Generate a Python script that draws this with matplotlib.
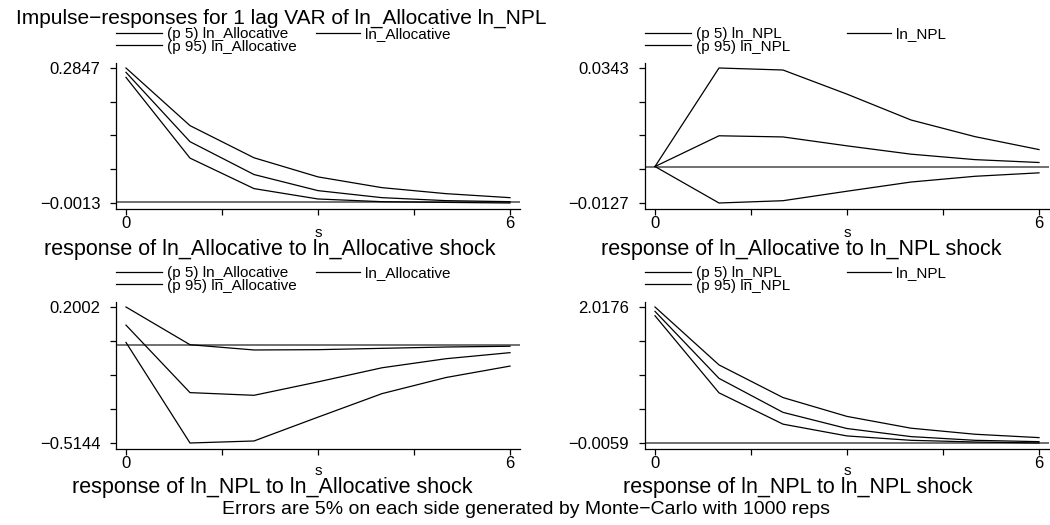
import numpy as np
import matplotlib
matplotlib.use("Agg")
import matplotlib.pyplot as plt

plt.rcParams['font.family'] = ['Liberation Sans', 'DejaVu Sans']

W, H = 1050, 525

# ---------------- data ----------------
steps = [0, 1, 2, 3, 4, 5, 6]

# ln_Allocative response to ln_Allocative shock
aa_p5 = [0.2648, 0.0938, 0.0292, 0.0072, 0.0015, 0.0000, -0.0013]
aa_irf = [0.2755, 0.1286, 0.0590, 0.0249, 0.0100, 0.0037, 0.0015]
aa_p95 = [0.2847, 0.1626, 0.0945, 0.0540, 0.0312, 0.0185, 0.0100]

# ln_Allocative response to ln_NPL shock
an_p5 = [0.0, -0.0127, -0.0119, -0.0086, -0.0054, -0.0034, -0.0022]
an_irf = [0.0, 0.0107, 0.0103, 0.0072, 0.0043, 0.0024, 0.0014]
an_p95 = [0.0, 0.0343, 0.0336, 0.0252, 0.0162, 0.0104, 0.0059]

# ln_NPL response to ln_Allocative shock
na_p5 = [0.0140, -0.5144, -0.5038, -0.3785, -0.2550, -0.1703, -0.1103]
na_irf = [0.1050, -0.2497, -0.2638, -0.1932, -0.1191, -0.0715, -0.0397]
na_p95 = [0.2002, 0.0020, -0.0256, -0.0240, -0.0170, -0.0100, -0.0060]

# ln_NPL response to ln_NPL shock
nn_p5 = [1.8874, 0.7404, 0.2745, 0.0992, 0.0341, 0.0090, -0.0059]
nn_irf = [1.9525, 0.9558, 0.4499, 0.2094, 0.0892, 0.0341, 0.0140]
nn_p95 = [2.0176, 1.1560, 0.6702, 0.3897, 0.2144, 0.1243, 0.0742]

x_ticks = [0, 1.5, 3, 4.5, 6]
x_ticklabels = ["0", "", "", "", "6"]

title = "Impulse\u2212responses for 1 lag VAR of ln_Allocative ln_NPL"
note = "Errors are 5% on each side generated by Monte\u2212Carlo with 1000 reps"

panels = [
    dict(p5=aa_p5, irf=aa_irf, p95=aa_p95, var="ln_Allocative",
         sub="response of ln_Allocative to ln_Allocative shock"),
    dict(p5=an_p5, irf=an_irf, p95=an_p95, var="ln_NPL",
         sub="response of ln_Allocative to ln_NPL shock"),
    dict(p5=na_p5, irf=na_irf, p95=na_p95, var="ln_Allocative",
         sub="response of ln_NPL to ln_Allocative shock"),
    dict(p5=nn_p5, irf=nn_irf, p95=nn_p95, var="ln_NPL",
         sub="response of ln_NPL to ln_NPL shock"),
]

# ---------------- layout (pixels) ----------------
layout = [
    dict(box=(116, 520, 63, 209), leg_top=27, col2=316, sub_x=270, s_y=233, sub_y=249),
    dict(box=(645, 1049, 63, 209), leg_top=27, col2=847, sub_x=801, s_y=233, sub_y=249),
    dict(box=(116, 520, 302, 449), leg_top=266, col2=316, sub_x=272, s_y=471, sub_y=488),
    dict(box=(645, 1049, 302, 449), leg_top=266, col2=847, sub_x=798, s_y=471, sub_y=488),
]

fig = plt.figure(figsize=(W / 100, H / 100), dpi=100)
fig.patch.set_facecolor('white')

def fx(px):
    return px / W

def fy(py):
    return 1 - py / H

LEG_FS = 11
TICK_FS = 12
SUB_FS = 15.5

for p, lay in zip(panels, layout):
    l, r, t, b = lay['box']
    ax = fig.add_axes([fx(l), fy(b), fx(r - l), (b - t) / H])
    allv = np.array(p['p5'] + p['irf'] + p['p95'])
    ymin, ymax = allv.min(), allv.max()
    rng = ymax - ymin
    dh = (b - t) - 11  # data height in px
    ax.set_ylim(ymin - 6 / dh * rng, ymax + 5 / dh * rng)
    dw = (r - l) - 20
    ax.set_xlim(-10 / dw * 6, 6 + 10 / dw * 6)

    ax.axhline(0, color='#707070', lw=1.4, zorder=1)
    h5, = ax.plot(steps, p['p5'], color='black', lw=0.9, label="(p 5) " + p['var'])
    hi, = ax.plot(steps, p['irf'], color='black', lw=0.9, label=p['var'])
    h95, = ax.plot(steps, p['p95'], color='black', lw=0.9, label="(p 95) " + p['var'])

    yt = np.linspace(ymin, ymax, 5)
    ax.set_yticks(yt)
    ylabs = ["{:.4f}".format(v).replace("-", "\u2212") for v in yt]
    ax.set_yticklabels([ylabs[0], "", "", "", ylabs[-1]])
    ax.set_xticks(x_ticks)
    ax.set_xticklabels(x_ticklabels)

    for s in ['top', 'right']:
        ax.spines[s].set_visible(False)
    for s in ['left', 'bottom']:
        ax.spines[s].set_linewidth(0.9)
    ax.tick_params(axis='y', direction='out', length=4.3, width=0.9, pad=7, labelsize=TICK_FS)
    ax.tick_params(axis='x', direction='out', length=4.3, width=0.9, pad=1, labelsize=TICK_FS)

    # legends
    hl = 46 / (LEG_FS * 1.389)
    legA = ax.legend(handles=[h5, h95], loc='upper left',
                     bbox_to_anchor=(fx(l), fy(lay['leg_top'])), bbox_transform=fig.transFigure,
                     frameon=False, fontsize=LEG_FS, borderpad=0, borderaxespad=0,
                     handlelength=hl, handletextpad=0.3, labelspacing=-0.08)
    ax.add_artist(legA)
    ax.legend(handles=[hi], loc='upper left',
              bbox_to_anchor=(fx(lay['col2']), fy(lay['leg_top'])), bbox_transform=fig.transFigure,
              frameon=False, fontsize=LEG_FS, borderpad=0, borderaxespad=0,
              handlelength=44 / (LEG_FS * 1.389), handletextpad=0.3, labelspacing=-0.08)

    # x-axis title "s"
    xc = l + 10 + dw / 2
    fig.text(fx(xc), fy(lay['s_y']), "s", ha='center', va='center', fontsize=11)
    # subtitle
    fig.text(fx(lay['sub_x']), fy(lay['sub_y']), p['sub'], ha='center', va='center', fontsize=SUB_FS)

fig.text(fx(16), fy(18), title, ha='left', va='center', fontsize=15)
fig.text(fx(526), fy(510), note, ha='center', va='center', fontsize=14)

fig.savefig("out.png", dpi=100, facecolor='white')
